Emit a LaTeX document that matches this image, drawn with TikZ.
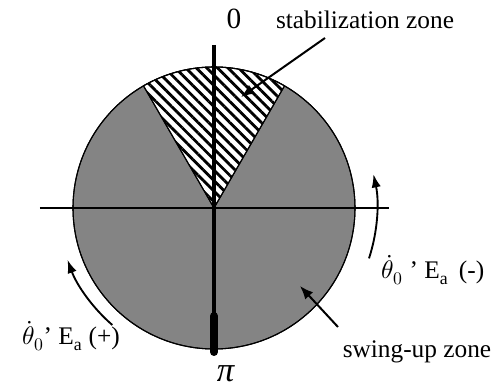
\documentclass[tikz,border=0pt]{standalone}
\usepackage{fontspec}
\setmainfont{Liberation Serif}
\usepackage{unicode-math}
\setmathfont{Latin Modern Math}
\usetikzlibrary{arrows.meta,patterns.meta}
\tikzset{
  swing zone/.style={fill={rgb,255:red,132;green,132;blue,132}, draw=black, line width=0.8pt},
  stab zone/.style={pattern={Lines[angle=-45, distance=5.6pt, line width=2.1pt]}, draw=black, line width=0.8pt},
  zone arrow/.style={-{Latex[length=10pt,width=8pt]}, line width=1.5pt},
  turn arrow/.style={-{Latex[length=10pt,width=7pt]}, line width=1.4pt},
}

\begin{document}
\begin{tikzpicture}[x=0.75pt, y=0.75pt, every node/.style={font=\fontsize{19}{21}\selectfont}]
  \useasboundingbox (-214,-181) rectangle (283,208);
  \coordinate (o) at (0,0);
  % zones
  \fill[swing zone] (o) circle (141);
  \fill[white] (o) -- (60:141) arc (60:120:141) -- cycle;
  \path[stab zone] (o) -- (60:141) arc (60:120:141) -- cycle;
  \draw[line width=0.8pt] (o) circle (141);
  \draw[line width=0.8pt] (60:141) -- (o) -- (120:141);
  % axes
  \coordinate (xl) at (-174,0);   \coordinate (xr) at (175,0);
  \coordinate (yt) at (0,163);    \coordinate (yb) at (0,-144);
  \coordinate (yk) at (0,-108);
  \draw[line width=1.3pt] (xl) -- (xr);
  \draw[line width=2.4pt] (yt) -- (yb);
  \draw[line width=6pt, line cap=round] (yk) -- (yb);
  \node (zero) at (20,189) {\fontsize{22}{24}\selectfont 0};
  \node[inner sep=0pt] (pi) at (12,-166) {\fontsize{26}{28}\selectfont\textit{π}};
  % zone labels
  \node (stablabel) at (151,188) {stabilization zone};
  \node (swinglabel) at (203,-144) {swing-up zone};
  \coordinate (stabtail) at (111,170);  \coordinate (stabtip) at (27,111);
  \coordinate (swingtail) at (124,-119); \coordinate (swingtip) at (86,-78);
  \draw[zone arrow] (stabtail) -- (stabtip);
  \draw[zone arrow] (swingtail) -- (swingtip);
  % direction of rotation
  \draw[turn arrow] (-18:163) arc (-18:12:163);
  \draw[turn arrow] (229:155) arc (229:200:158);
  \node (neglabel) at (219,-62) {$\dot{\theta}_{0}$ ’ E\textsubscript{a}\, (-)};
  \node (poslabel) at (-143,-128) {$\dot{\theta}_{0}$’ E\textsubscript{a} (+)};
\end{tikzpicture}
\end{document}
